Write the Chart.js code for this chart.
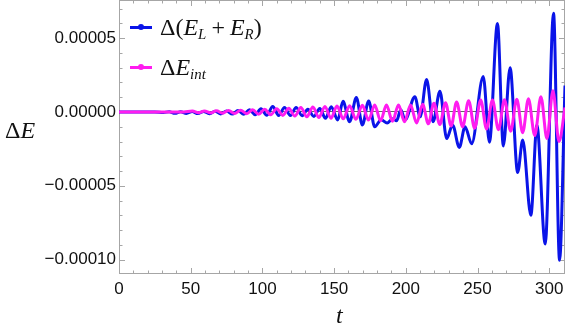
<!DOCTYPE html>
<html>
<head>
<meta charset="utf-8">
<script src="https://cdn.jsdelivr.net/npm/chart.js@4.4.1/dist/chart.umd.min.js"></script>
<style>
  body { margin: 0; background: #fff; }
  #wrap { position: relative; width: 565px; height: 336px; }
  .math { position: absolute; font-family: 'Liberation Serif', 'DejaVu Serif', serif; color: #111; white-space: nowrap; }
  .math sub { font-size: 62%; vertical-align: -0.3em; line-height: 0; }
  .leg { left: 130px; height: 24px; display: flex; align-items: center; font-size: 24px; }
  .op { margin: 0 5px; }
  .mk { position: relative; display: inline-block; width: 22px; height: 3px; margin-right: 8px; }
  .mk::after { content: ''; position: absolute; left: 8px; top: -2px; width: 6px; height: 6px; border-radius: 50%; background: inherit; }
</style>
</head>
<body>
<div id="wrap">
  <canvas id="chart" width="565" height="336"></canvas>
  <div class="math leg" style="top:15px"><span class="mk" style="background:#0a14e8"></span><span>Δ(<i>E</i><sub><i>L</i></sub><span class="op">+</span><i>E</i><sub><i>R</i></sub>)</span></div>
  <div class="math leg" style="top:55px"><span class="mk" style="background:#ff1cf0"></span><span>Δ<i>E</i><sub><i>int</i></sub></span></div>
  <div class="math" style="left:5px; top:117px; font-size:24px">Δ<i>E</i></div>
  <div class="math" style="left:336px; top:302px; font-size:24px"><i>t</i></div>
</div>
<script>
// values, energies in units of 1e-6
const blueT = [0, 25, 31, 35, 39, 43, 47, 51, 55, 59, 63, 67, 71, 75, 79, 83, 87, 91, 95, 99, 103,
  107.2, 111.3, 115.4, 119.5, 123.5, 127.7, 131.7, 135.9, 140, 144, 148, 152.5, 156.2, 160.8, 165.5,
  169.7, 174.1, 178.3, 182.8, 187, 191, 193.5, 196.5, 199.5, 206.3, 210, 214.5, 219, 223.8, 228.5,
  232.6, 237.3, 241.3, 245.9, 254, 258.3, 263.9, 268, 272.7, 278, 281.5, 287.2, 291.4, 297.2, 303, 307.2, 311];
const blueE = [0, 0, -0.4, 0.2, -0.9, 0.2, -1.0, 0.3, -1.1, 0.4, -1.2, 0.5, -1.3, 0.7, -1.4, 1.0, -1.6, 1.5, -1.8, 2.2, -2.2,
  3.8, -2.4, 3.0, -2.4, 3.0, -2.5, 1.8, -3.0, 2.4, -4.3, 3.6, -5.4, 7.2, -6.6, 9.8,
  -8.8, 7.5, -10, -5.2, -7.5, -4.5, -6, 1.5, -5.4, 10.4, -3.2, 22, -6.6, 14, -18,
  -8.8, -24, -10, -21.5, 24, -20.5, 60, -23, 30, -41, -19, -70, -9, -89.5, 67, -100.5, 18];

const intT = [0, 45, 51.2, 55.4, 59.6, 63.8, 68, 72.2, 76.4, 80.6, 84.8, 89, 93.2, 97.4, 101.6, 105.8,
  110, 114.2, 118.4, 122.6, 126.8, 131, 135.2, 139.4, 143.6, 147.8, 152, 156.4, 160.8, 165.2, 169.7,
  174, 178.3, 182.4, 186.5, 190.7, 194.9, 199.1, 203.3, 207.5, 211.7, 215.7, 219.6, 223.7, 227.7,
  231.6, 235.4, 239.6, 243.8, 248, 252.2, 256.3, 260.4, 264.6, 268.8, 273.1, 277.4, 281.5, 285.5,
  289.9, 294.2, 298.4, 302.6, 306.8, 311];
const intE = [0, 0, 0.6, -0.5, 0.7, -0.6, 0.8, -0.8, 1.0, -1.0, 1.2, -1.2, 1.5, -1.5, 1.8, -1.9,
  2.2, -2.3, 2.6, -2.8, 3.0, -3.3, 3.4, -3.8, 3.8, -4.3, 4.0, -4.6, 4.3, -5.0, 4.5,
  -5.5, 4.7, -6.0, 4.7, -6.3, 4.7, -6.6, 4.8, -7.5, 5.2, -8.0, 5.9, -8.5, 6.3,
  -9.5, 6.8, -10, 7.7, -11, 8.1, -11.5, 8.1, -12, 8.3, -13, 8.6, -14, 9,
  -16, 10.4, -18, 14.4, -20, 3];

const xTicks = [0, 50, 100, 150, 200, 250, 300];
const yTicks = [-0.0001, -0.00005, 0, 0.00005];

function toPoints(ts, es) {
    return ts.map((t, i) => ({ x: t, y: es[i] * 1e-6 }));
}

const framePlugin = {
    id: 'frame',
    beforeDatasetsDraw(chart) {
        const { ctx, chartArea: a, scales: { x, y } } = chart;
        ctx.save();
        ctx.strokeStyle = '#a6a6a6';
        ctx.lineWidth = 1;
        ctx.strokeRect(a.left + 0.5, a.top + 0.5, a.right - a.left - 1, a.bottom - a.top - 1);
        ctx.beginPath();
        for (let v = 0; v <= x.max; v += 10) {
            const px = Math.round(x.getPixelForValue(v)) + 0.5;
            const len = v % 50 === 0 ? 6 : 3.5;
            ctx.moveTo(px, a.bottom); ctx.lineTo(px, a.bottom - len);
            ctx.moveTo(px, a.top); ctx.lineTo(px, a.top + len);
        }
        for (let k = -10; k <= 7; k++) {
            const py = Math.round(y.getPixelForValue(k * 1e-5)) + 0.5;
            const len = k % 5 === 0 ? 6 : 3.5;
            ctx.moveTo(a.left, py); ctx.lineTo(a.left + len, py);
            ctx.moveTo(a.right, py); ctx.lineTo(a.right - len, py);
        }
        ctx.stroke();
        ctx.restore();
    }
};

new Chart(document.getElementById('chart'), {
    type: 'line',
    data: {
        datasets: [{
            label: 'Δ(E_L + E_R)',
            data: toPoints(blueT, blueE),
            borderColor: '#0a14e8',
            borderWidth: 3,
            pointRadius: 0,
            cubicInterpolationMode: 'monotone',
            order: 1
        }, {
            label: 'ΔE_int',
            data: toPoints(intT, intE),
            borderColor: '#ff1cf0',
            borderWidth: 3,
            pointRadius: 0,
            cubicInterpolationMode: 'monotone',
            order: 0
        }]
    },
    options: {
        responsive: false,
        animation: false,
        layout: { padding: 0 },
        plugins: { legend: { display: false }, tooltip: { enabled: false } },
        scales: {
            x: {
                type: 'linear',
                min: 0,
                max: 311,
                afterBuildTicks: s => { s.ticks = xTicks.map(v => ({ value: v })); },
                afterFit: s => { s.height = 62; s.paddingLeft = 0; s.paddingRight = 0; },
                grid: { display: false, drawTicks: false },
                border: { display: false },
                ticks: { padding: 5, color: '#111', font: { family: 'Liberation Sans', size: 17 } }
            },
            y: {
                type: 'linear',
                min: -0.0001098,
                max: 0.0000759,
                afterBuildTicks: s => { s.ticks = yTicks.map(v => ({ value: v })); },
                afterFit: s => { s.width = 119; s.paddingTop = 0; s.paddingBottom = 0; },
                grid: {
                    drawTicks: false,
                    color: c => (c.tick && Math.abs(c.tick.value) < 1e-12) ? 'rgba(0,0,0,0.6)' : 'rgba(0,0,0,0)',
                    lineWidth: 1
                },
                border: { display: false },
                ticks: {
                    padding: 3,
                    color: '#111',
                    font: { family: 'Liberation Sans', size: 17 },
                    callback: v => {
                        const s = Math.abs(v).toFixed(5);
                        return v < -1e-12 ? '\u2212' + s : s;
                    }
                }
            }
        }
    },
    plugins: [framePlugin]
});
</script>
</body>
</html>
